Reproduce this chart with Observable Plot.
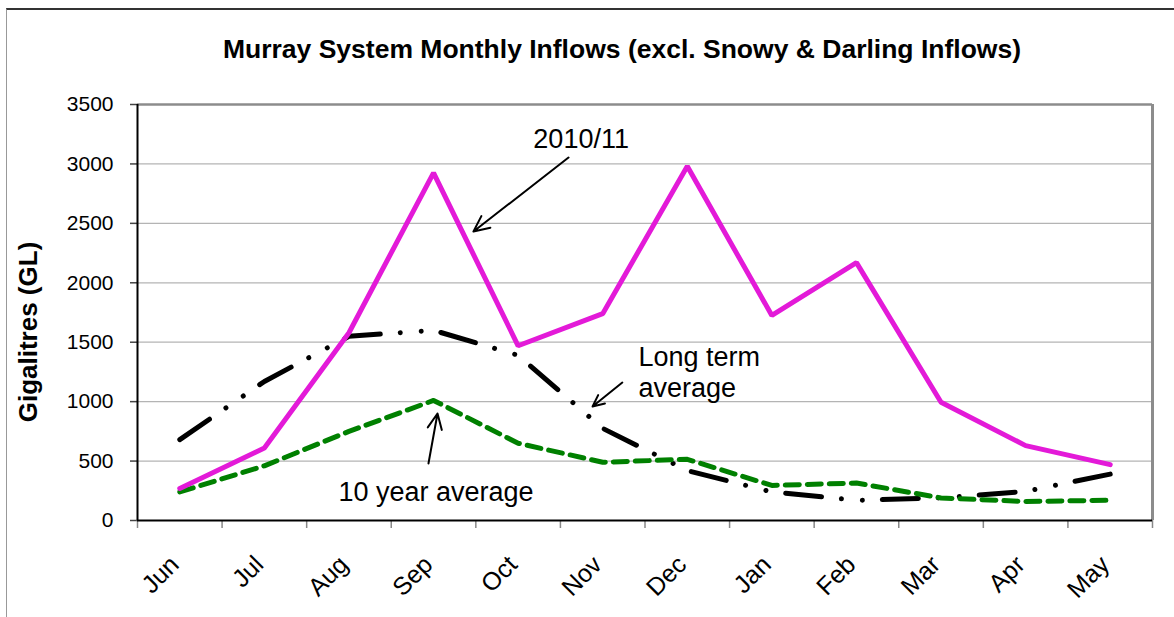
<!DOCTYPE html>
<html>
<head>
<meta charset="utf-8">
<script src="https://cdn.jsdelivr.net/npm/d3@7"></script>
<script src="https://cdn.jsdelivr.net/npm/@observablehq/plot@0.6"></script>
<style>
  html, body { margin: 0; padding: 0; background: #fff; }
  #wrap { position: relative; width: 1174px; height: 617px; overflow: hidden; background: #fff; }
  #frame { position: absolute; left: 6px; top: 8px; width: 1200px; height: 700px;
           border-top: 2px solid #333; border-left: 1.5px solid #999; box-sizing: border-box; }
  #chart { position: absolute; left: 0; top: 0; }
  #title { position: absolute; left: 0; top: 34px; width: 1244px; text-align: center;
           font: bold 26.5px "Liberation Sans", Arial, sans-serif; line-height: 30px; color: #000; white-space: nowrap; }
  #ylabel { position: absolute; left: 28px; top: 332px; transform: translate(-50%, -50%) rotate(-90deg);
            font: bold 26px "Liberation Sans", Arial, sans-serif; line-height: 26px; color: #000; white-space: nowrap; }
</style>
</head>
<body>
<div id="wrap">
  <div id="frame"></div>
  <div id="chart"></div>
  <div id="title">Murray System Monthly Inflows (excl. Snowy &amp; Darling Inflows)</div>
  <div id="ylabel">Gigalitres (GL)</div>
</div>
<script>
// ---- data ----
const months = ["Jun","Jul","Aug","Sep","Oct","Nov","Dec","Jan","Feb","Mar","Apr","May"];
const inflow2010 = [270, 610, 1580, 2925, 1470, 1740, 2980, 1725, 2170, 995, 630, 470];
const longTermAvg = [680, 1170, 1550, 1600, 1390, 775, 420, 240, 170, 190, 245, 390];
const tenYearAvg = [240, 460, 750, 1010, 650, 490, 515, 295, 315, 190, 160, 170];
const yTicks = [0, 500, 1000, 1500, 2000, 2500, 3000, 3500];
const gridTicks = [500, 1000, 1500, 2000, 2500, 3000];

// annotations (data coordinates: x = month index, y = GL)
const noteLabels = ["2010/11", "Long term\naverage", "10 year average"];
const noteX = [4.18, 5.423, 1.876];
const noteY = [3138, 1035, 168];
const arrowX1 = [4.596, 5.232, 2.940];
const arrowY1 = [3054, 1161, 480];
const arrowX2 = [3.472, 4.880, 3.047];
const arrowY2 = [2431, 959, 900];

const idx = months.map((m, i) => i);
const bounds = d3.range(13).map(i => i - 0.5);

const chart = Plot.plot({
  width: 1174,
  height: 617,
  marginLeft: 137,
  marginRight: 22,
  marginTop: 104,
  marginBottom: 97,
  x: { type: "linear", domain: [-0.5, 11.5], label: null },
  y: { domain: [0, 3500], label: null },
  style: { fontFamily: "'Liberation Sans', Arial, sans-serif", background: "transparent", overflow: "visible", color: "#000" },
  marks: [
    Plot.ruleY(gridTicks, { stroke: "#b4b4b4", strokeWidth: 1.3 }),
    Plot.ruleY([3500], { stroke: "#8c8c8c", strokeWidth: 2.5 }),
    Plot.ruleX([11.5], { stroke: "#8c8c8c", strokeWidth: 3 }),
    Plot.axisY({ ticks: yTicks, tickFormat: d => String(d), tickSize: 7, tickPadding: 17, fontSize: 21, stroke: "#444", strokeWidth: 1.5, label: null }),
    Plot.axisX({ ticks: bounds, tickFormat: () => "", tickSize: 8, stroke: "#888", strokeWidth: 1.5, label: null }),
    Plot.axisX({ ticks: idx, tickFormat: i => months[i], tickSize: 0, tickPadding: 40, tickRotate: -45, fontSize: 25, dx: -5, label: null }),
    Plot.ruleY([0], { stroke: "#000", strokeWidth: 2 }),
    Plot.ruleX([-0.5], { stroke: "#000", strokeWidth: 2 }),
    Plot.line(idx, { x: i => i, y: i => longTermAvg[i], stroke: "#000", strokeWidth: 5,
      strokeDasharray: "36 20 0.001 21 0.001 20", strokeLinecap: "round", strokeLinejoin: "round" }),
    Plot.line(idx, { x: i => i, y: i => tenYearAvg[i], stroke: "#008000", strokeWidth: 5,
      strokeDasharray: "14 8", strokeLinejoin: "round" }),
    Plot.line(idx, { x: i => i, y: i => inflow2010[i], stroke: "#e31ad8", strokeWidth: 5, strokeLinejoin: "miter" }),
    Plot.arrow([0, 1, 2], { x1: i => arrowX1[i], y1: i => arrowY1[i], x2: i => arrowX2[i], y2: i => arrowY2[i],
      stroke: "#000", strokeWidth: 2, headLength: 13, headAngle: 50 }),
    Plot.text([0, 1, 2], { x: i => noteX[i], y: i => noteY[i], text: i => noteLabels[i],
      textAnchor: "start", lineAnchor: "bottom", lineHeight: 1.154, fontSize: 27, fill: "#000" })
  ]
});
document.getElementById("chart").appendChild(chart);
</script>
</body>
</html>
